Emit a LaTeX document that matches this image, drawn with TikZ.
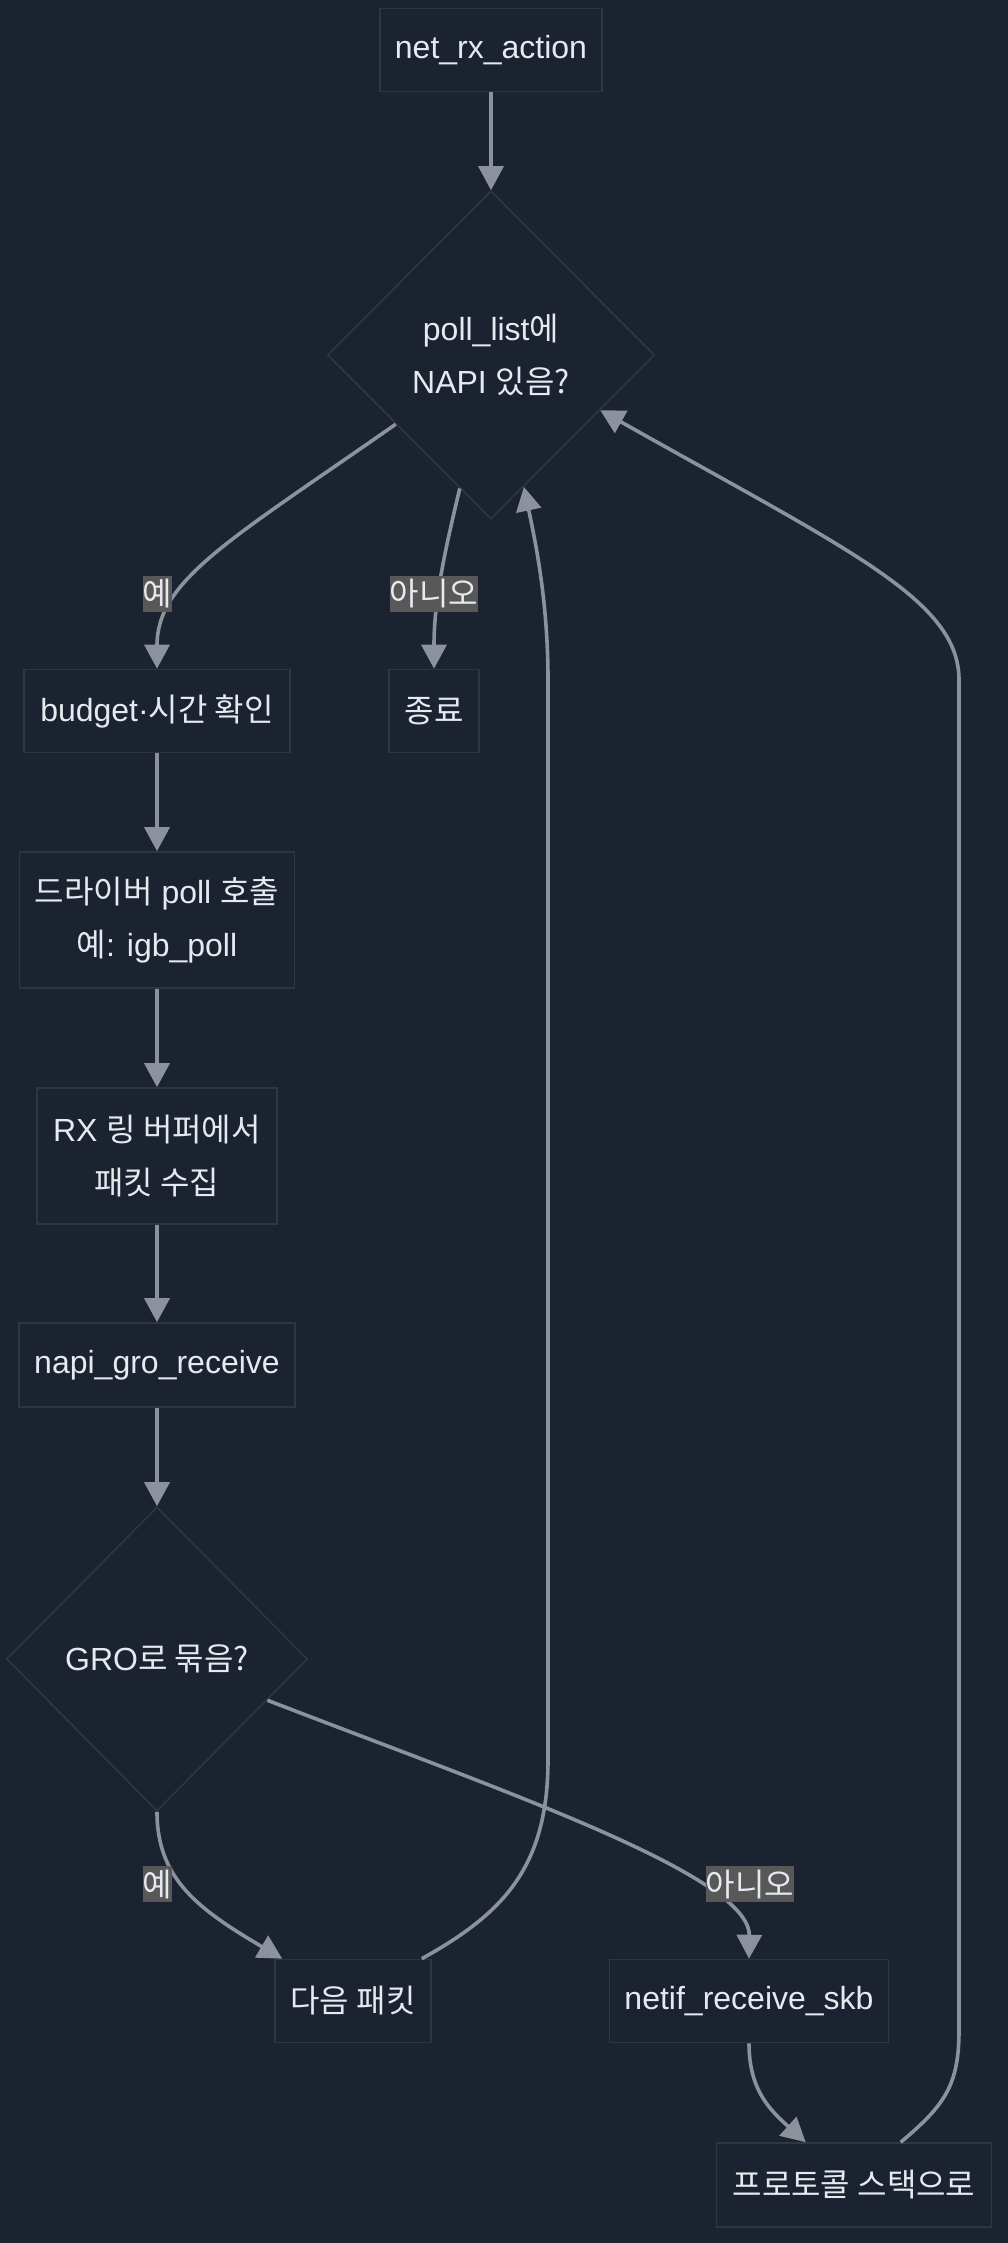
\documentclass[tikz,border=0pt]{standalone}
\usepackage{fontspec}
\setmainfont{Liberation Sans}
\newfontfamily\krfont{Noto Sans CJK KR}
\newcommand{\kor}[1]{{\krfont #1}}
\usetikzlibrary{shapes.geometric,arrows.meta,calc}
\definecolor{bg}{HTML}{1B2230}
\definecolor{edgecol}{HTML}{8B929C}
\definecolor{bord}{HTML}{30363F}
\definecolor{lbl}{HTML}{585858}
\definecolor{txt}{HTML}{E6E9EE}
\begin{document}
\begin{tikzpicture}[x=0.5pt,y=-0.5pt,
  box/.style={draw=bord, line width=0.8pt, fill=bg, text=txt, inner sep=0pt, align=center, font=\fontsize{16}{26.5}\selectfont},
  dia/.style={box, diamond, aspect=1},
  arr/.style={draw=edgecol, line width=1.8pt, line join=round, -{Triangle[length=12pt,width=12.5pt]}},
  lab/.style={fill=lbl, text=txt, inner xsep=0pt, inner ysep=0pt, minimum height=18pt, font=\fontsize{16}{19}\krfont}
]
\useasboundingbox (0,0) rectangle (1007,2243);
\fill[bg] (-4,-4) rectangle (1011,2247);

% nodes
\node[box, minimum width=111pt, minimum height=41.5pt] (start) at (491,50) {net\_rx\_action};
\node[dia, minimum width=163.5pt, minimum height=164pt] (d1) at (491,355) {poll\_list\kor{에}\\NAPI \kor{있음?}};
\node[box, minimum width=133pt, minimum height=41.5pt] (budget) at (157,711) {budget·\kor{시간 확인}};
\node[box, minimum width=45pt, minimum height=41.5pt] (fin) at (434,711) {\kor{종료}};
\node[box, minimum width=137.5pt, minimum height=68pt] (driver) at (157,920) {\kor{드라이버} poll \kor{호출}\\\kor{예}: igb\_poll};
\node[box, minimum width=120pt, minimum height=68pt] (rx) at (157,1156) {RX \kor{링 버퍼에서}\\\kor{패킷 수집}};
\node[box, minimum width=138pt, minimum height=42pt] (gro) at (157,1365) {napi\_gro\_receive};
\node[dia, minimum width=150.5pt, minimum height=152pt] (d2) at (157,1659) {GRO\kor{로 묶음?}};
\node[box, minimum width=78pt, minimum height=41.5pt] (next) at (353,2001) {\kor{다음 패킷}};
\node[box, minimum width=139.5pt, minimum height=41.5pt] (netif) at (749,2001) {netif\_receive\_skb};
\node[box, minimum width=137.5pt, minimum height=42pt] (proto) at (854,2185) {\kor{프로토콜 스택으로}};

% edges
\draw[arr] (start.south) -- (d1.north);
\draw[arr] ($(d1.west)!0.42!(d1.south)$) .. controls (230,540) and (157,580) .. (budget.north);
\draw[arr] ($(d1.west)!0.81!(d1.south)$) .. controls (445,550) and (434,600) .. (fin.north);
\draw[arr] (budget.south) -- (driver.north);
\draw[arr] (driver.south) -- (rx.north);
\draw[arr] (rx.south) -- (gro.north);
\draw[arr] (gro.south) -- (d2.north);
\draw[arr] (d2.south) .. controls (157,1880) and (200,1910) .. ($(next.north west)+(8,0)$);
\draw[arr] ($(d2.east)!0.27!(d2.south)$) .. controls (500,1790) and (750,1875) .. (netif.north);
\draw[arr] ($(next.north east)+(-10,0)$) .. controls (500,1915) and (548,1870) .. (548,1760) -- (548,680) .. controls (548,600) and (535,540) .. ($(d1.south)!0.2!(d1.east)$);
\draw[arr] ($(proto.north west)+(185,0)$) .. controls (945,2105) and (959,2085) .. (959,2030) -- (959,680) .. controls (959,600) and (850,551) .. ($(d1.south)!0.665!(d1.east)$);
\draw[arr] (netif.south) .. controls (749,2090) and (770,2110) .. ($(proto.north west)+(90,0)$);

% edge labels
\node[lab] (l1) at (157.5,594) {예};
\node[lab] (l2) at (434,594) {아니오};
\node[lab] (l3) at (157.5,1884) {예};
\node[lab] (l4) at (750,1884) {아니오};
\end{tikzpicture}
\end{document}
